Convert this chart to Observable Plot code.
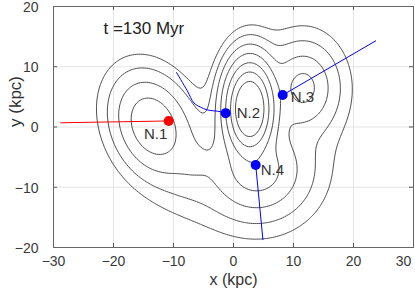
<!DOCTYPE html>
<html>
<head>
<meta charset="utf-8">
<script src="https://cdn.jsdelivr.net/npm/d3@7"></script>
<script src="https://cdn.jsdelivr.net/npm/@observablehq/plot@0.6"></script>
<style>
  html, body { margin: 0; padding: 0; background: #fff; }
  #chart { width: 415px; height: 295px; }
  svg { font-family: "Liberation Sans", Arial, sans-serif; }
</style>
</head>
<body>
<div id="chart"></div>
<script>
// ---- data ----
const xTicks = [-30, -20, -10, 0, 10, 20, 30];
const yTicks = [-20, -10, 0, 10, 20];
const titleText = "t =130 Myr";
const xLabel = "x (kpc)";
const yLabel = "y (kpc)";

const nucName = ["N.1", "N.2", "N.3", "N.4"];
const nucX = [-10.8, -1.3, 8.2, 3.7];
const nucY = [1.0, 2.3, 5.3, -6.3];
const nucColor = ["red", "blue", "blue", "blue"];

// trajectories (one per nucleus)
const track1X = [-28.8, -10.8];
const track1Y = [0.7, 1.0];
const track2X = [-9.5, -7.7, -6.6, -5.5, -4.4, -2.2, -1.3];
const track2Y = [9.05, 6.0, 4.0, 3.3, 2.85, 2.55, 2.3];
const track3X = [8.2, 23.7];
const track3Y = [5.3, 14.3];
const track4X = [3.7, 4.9];
const track4Y = [-6.3, -18.7];

// density clumps (centre, peak height in contour steps, scale lengths, tilt, core)
const clumpX  = [-13.4, 2.7, 11.6, 4.0, -6.5];
const clumpY  = [0.2, 3.0, 6.5, -7.3, -6.0];
const clumpH  = [5.95, 9.2, 4.4, 4.6, 2.6];
const clumpSx = [1.57, 0.78, 1.9, 2.7, 2.5];
const clumpSy = [2.2, 1.5, 2.4, 2.5, 2.8];
const clumpAngle = [0.4, 0, 0, 0, 0];
const clumpCore = [4, 1, 1, 1, 1];

const contourLevels = [0, 1, 2, 3, 4, 5, 6];

// ---- build tables ----
const nuclei = nucName.map((n, i) => ({name: n, x: nucX[i], y: nucY[i], color: nucColor[i]}));
const tracks = [
  [track1X, track1Y, "red"],
  [track2X, track2Y, "blue"],
  [track3X, track3Y, "blue"],
  [track4X, track4Y, "blue"]
].flatMap(([xs, ys, c], k) => xs.map((x, i) => ({track: k, x, y: ys[i], color: c})));

function density(x, y) {
  let s = 0;
  for (let i = 0; i < clumpX.length; i++) {
    const dx = x - clumpX[i], dy = y - clumpY[i];
    const c = Math.cos(clumpAngle[i]), sn = Math.sin(clumpAngle[i]);
    const u = (dx * c + dy * sn) / clumpSx[i];
    const v = (-dx * sn + dy * c) / clumpSy[i];
    s += Math.exp(clumpH[i] - Math.sqrt(u * u + v * v + clumpCore[i]));
  }
  return Math.log(s);
}

const labelOffsets = {"N.1": [-13, 13, "middle"], "N.2": [11, 0, "start"], "N.3": [8, 2, "start"], "N.4": [5, 5, "start"]};

const plot = Plot.plot({
  width: 415,
  height: 295,
  marginLeft: 53,
  marginRight: 2,
  marginTop: 6,
  marginBottom: 48,
  style: {fontSize: "14px", color: "#3a3a3a", background: "#fff"},
  x: {domain: [-30, 30], axis: null},
  y: {domain: [-20, 20], axis: null},
  marks: [
    Plot.ruleX(xTicks, {stroke: "#e4e4e4", strokeWidth: 1}),
    Plot.ruleY(yTicks, {stroke: "#e4e4e4", strokeWidth: 1}),
    Plot.contour({
      value: density, x1: -30, x2: 30, y1: -20, y2: 20,
      thresholds: contourLevels, stroke: "#3a3a3a", strokeWidth: 0.9, fill: "none"
    }),
    Plot.line(tracks, {x: "x", y: "y", z: "track", stroke: "color", strokeWidth: 1, curve: "catmull-rom"}),
    Plot.dot(nuclei, {x: "x", y: "y", r: 5, fill: "color", stroke: "none"}),
    ...nuclei.map(d => Plot.text([d], {
      x: "x", y: "y", text: "name",
      dx: labelOffsets[d.name][0], dy: labelOffsets[d.name][1], textAnchor: labelOffsets[d.name][2],
      fontSize: 15, fill: "#333"
    })),
    Plot.text([titleText], {frameAnchor: "top-left", dx: 50, dy: 15, fontSize: 17, fill: "#222", textAnchor: "start"}),
    Plot.tickX(xTicks, {x: d => d, stroke: "#555", insetTop: 237}),
    Plot.tickX(xTicks, {x: d => d, stroke: "#555", insetBottom: 237}),
    Plot.tickY(yTicks, {y: d => d, stroke: "#555", insetRight: 356}),
    Plot.tickY(yTicks, {y: d => d, stroke: "#555", insetLeft: 356}),
    Plot.axisX(xTicks.slice(0, -1), {tickSize: 0, tickPadding: 9, label: null, fontSize: 14}),
    Plot.axisX(xTicks.slice(-1), {tickSize: 0, tickPadding: 9, dx: -10, label: null, fontSize: 14}),
    Plot.axisY(yTicks, {tickSize: 0, tickPadding: 15, label: null, fontSize: 14, dy: 1}),
    Plot.text([xLabel], {frameAnchor: "bottom", dy: 37, fontSize: 16, fill: "#333"}),
    Plot.text([yLabel], {frameAnchor: "left", dx: -38, rotate: -90, fontSize: 17, fill: "#333"}),
    Plot.frame({stroke: "#666", strokeWidth: 1})
  ]
});
document.getElementById("chart").append(plot);
</script>
</body>
</html>
